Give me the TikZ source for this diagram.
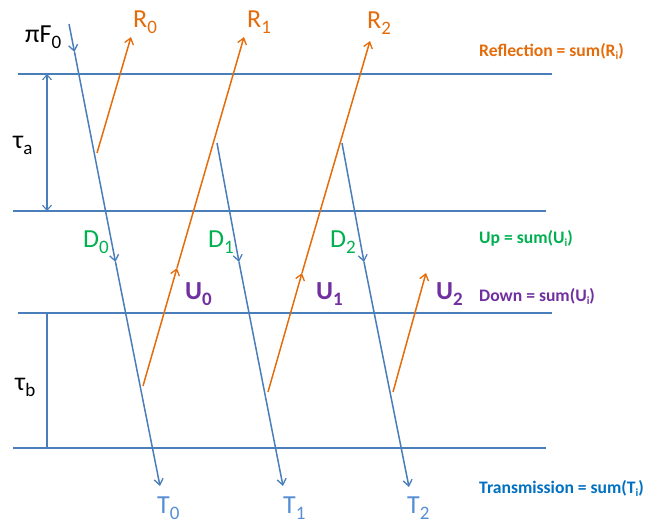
\documentclass[tikz,border=0pt]{standalone}
\usepackage{fontspec}
\setmainfont{Carlito}
\usetikzlibrary{arrows.meta}
\definecolor{lineblue}{HTML}{4A7EBB}
\definecolor{lineorange}{HTML}{E46C0A}
\definecolor{tblue}{HTML}{558ED5}
\definecolor{darkblue}{HTML}{0070C0}
\definecolor{lgreen}{HTML}{00B050}
\definecolor{lpurple}{HTML}{7030A0}
\newcommand{\lsub}[1]{\raisebox{-6pt}{\fontsize{19}{19}\selectfont #1}}
\newcommand{\ssub}[1]{\raisebox{-3pt}{\fontsize{11}{11}\selectfont #1}}
\tikzset{
  layer/.style={draw=lineblue, line width=2pt},
  blueray/.style={draw=lineblue, line width=1.5pt, -{Straight Barb[length=6pt,width=9pt,line width=1.3pt]}},
  orangeray/.style={draw=lineorange, line width=1.5pt, -{Straight Barb[length=6pt,width=9pt,line width=1.3pt]}},
  dim/.style={draw=lineblue, line width=1.3pt},
  lab/.style={anchor=base west, inner sep=0pt, font=\fontsize{26}{26}\selectfont},
  sumlab/.style={anchor=base west, inner sep=0pt, font=\fontsize{17.6}{17.6}\selectfont\bfseries},
}
\begin{document}
\begin{tikzpicture}[x=1pt,y=-1pt]
\useasboundingbox (0,0) rectangle (649,523);
% layer boundaries
\coordinate (l1a) at (18,74);  \coordinate (l1b) at (552,74);
\coordinate (l2a) at (13,211); \coordinate (l2b) at (546,211);
\coordinate (l3a) at (18,313); \coordinate (l3b) at (552,313);
\coordinate (l4a) at (13,448); \coordinate (l4b) at (546,448);
\draw[layer] (l1a) -- (l1b);
\draw[layer] (l2a) -- (l2b);
\draw[layer] (l3a) -- (l3b);
\draw[layer] (l4a) -- (l4b);
% thickness markers
\coordinate (ta1) at (47,74);  \coordinate (ta2) at (47,211);
\coordinate (tb1) at (47,313); \coordinate (tb2) at (47,448);
\draw[dim, {Straight Barb[length=5pt,width=9pt,line width=1.1pt]}-{Straight Barb[length=5pt,width=9pt,line width=1.1pt]}] (ta1) -- (ta2);
\draw[dim] (tb1) -- (tb2);
% downward rays
\coordinate (d0s) at (69,24);  \coordinate (d0m1) at (74.5,52); \coordinate (d0m2) at (115.5,262); \coordinate (d0e) at (160,486);
\draw[blueray] (d0s) -- (d0m1);
\draw[blueray] (d0m1) -- (d0m2);
\draw[blueray] (d0m2) -- (d0e);
\coordinate (d1s) at (217,143); \coordinate (d1m) at (239,262); \coordinate (d1e) at (283,486);
\draw[blueray] (d1s) -- (d1m);
\draw[blueray] (d1m) -- (d1e);
\coordinate (d2s) at (342,143); \coordinate (d2m) at (364,262); \coordinate (d2e) at (409,487);
\draw[blueray] (d2s) -- (d2m);
\draw[blueray] (d2m) -- (d2e);
% upward rays
\coordinate (r0s) at (97,153); \coordinate (r0e) at (131,37);
\draw[orangeray] (r0s) -- (r0e);
\coordinate (r1s) at (143,386); \coordinate (r1m) at (177,268); \coordinate (r1e) at (244,37);
\draw[orangeray] (r1s) -- (r1m);
\draw[orangeray] (r1m) -- (r1e);
\coordinate (r2s) at (268,392); \coordinate (r2m) at (302,273); \coordinate (r2e) at (370,41);
\draw[orangeray] (r2s) -- (r2m);
\draw[orangeray] (r2m) -- (r2e);
\coordinate (u2s) at (393,392); \coordinate (u2e) at (426,273);
\draw[orangeray] (u2s) -- (u2e);
% labels
\node[lab] (pif) at (25,42) {πF\lsub{0}};
\node[lab, text=lineorange] (R0) at (133,27) {R\lsub{0}};
\node[lab, text=lineorange] (R1) at (247,27) {R\lsub{1}};
\node[lab, text=lineorange] (R2) at (367,28) {R\lsub{2}};
\node[lab] (taua) at (13,148) {τ\lsub{a}};
\node[lab] (taub) at (15,390) {τ\lsub{b}};
\node[lab, text=lgreen] (D0) at (83,247) {D\lsub{0}};
\node[lab, text=lgreen] (D1) at (208,247) {D\lsub{1}};
\node[lab, text=lgreen] (D2) at (330,247) {D\lsub{2}};
\node[lab, text=lpurple, font=\fontsize{26}{26}\selectfont\bfseries] (U0) at (185,299) {U\lsub{\bfseries 0}};
\node[lab, text=lpurple, font=\fontsize{26}{26}\selectfont\bfseries] (U1) at (316,299) {U\lsub{\bfseries 1}};
\node[lab, text=lpurple, font=\fontsize{26}{26}\selectfont\bfseries] (U2) at (436,299) {U\lsub{\bfseries 2}};
\node[lab, text=tblue] (T0) at (157,513) {T\lsub{0}};
\node[lab, text=tblue] (T1) at (283,513) {T\lsub{1}};
\node[lab, text=tblue] (T2) at (407,513) {T\lsub{2}};
\node[sumlab, text=lineorange] (refl) at (479,56) {Reflection = sum(R\ssub{\bfseries i})};
\node[sumlab, text=lgreen] (up) at (479,243) {Up = sum(U\ssub{\bfseries i})};
\node[sumlab, text=lpurple] (down) at (479,301) {Down = sum(U\ssub{\bfseries i})};
\node[sumlab, text=darkblue] (trans) at (479,493) {Transmission = sum(T\ssub{\bfseries i})};
\end{tikzpicture}
\end{document}
